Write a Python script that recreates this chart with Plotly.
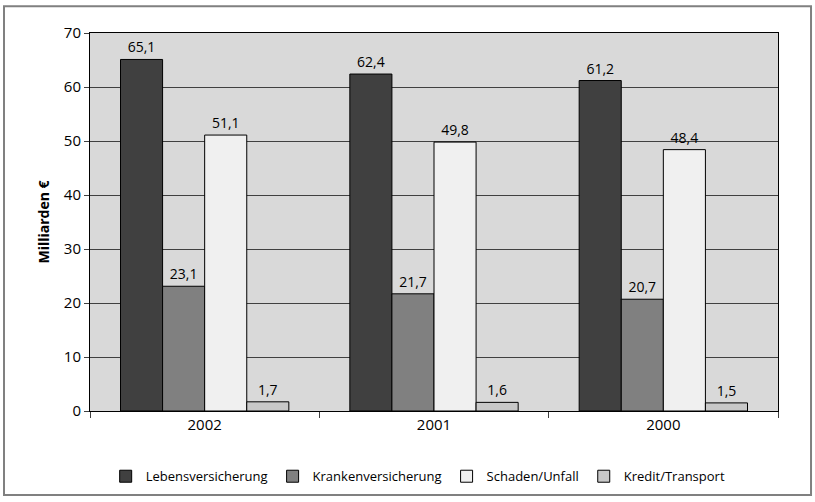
import plotly.graph_objects as go

years = ["2002", "2001", "2000"]
series_names = ["Lebensversicherung", "Krankenversicherung", "Schaden/Unfall", "Kredit/Transport"]
leben = [65.1, 62.4, 61.2]
kranken = [23.1, 21.7, 20.7]
schaden = [51.1, 49.8, 48.4]
kredit = [1.7, 1.6, 1.5]
colors = ["#404040", "#808080", "#f0f0f0", "#c8c8c8"]

fig = go.Figure()
for name, vals, col in zip(series_names, [leben, kranken, schaden, kredit], colors):
    fig.add_trace(go.Bar(
        x=years, y=vals, name=name,
        marker=dict(color=col, line=dict(color="#000000", width=1)),
        text=[f"{v:.1f}".replace(".", ",") for v in vals],
        textposition="outside", cliponaxis=False,
        textfont=dict(size=14, color="#000000"),
    ))

fig.update_layout(
    width=815, height=502,
    margin=dict(l=90, r=37, t=33, b=90),
    paper_bgcolor="white", plot_bgcolor="#d9d9d9",
    font=dict(family="Open Sans", size=14, color="#000000"),
    barmode="group", bargap=0.266, bargroupgap=0,
    showlegend=True,
    legend=dict(orientation="h", x=0.477, xanchor="center", y=-0.13, yanchor="top",
                font=dict(size=13), traceorder="normal", itemwidth=30),
    yaxis=dict(range=[0, 70], dtick=10, showgrid=True, gridcolor="#404040", gridwidth=1,
               ticks="outside", ticklen=5, tickcolor="#404040",
               showline=True, linecolor="#000000", mirror=True, zeroline=False,
               tickfont=dict(size=15),
               title=dict(text="<b>Milliarden €</b>", font=dict(size=14), standoff=10)),
    xaxis=dict(tickson="boundaries", ticks="outside", ticklen=6, tickcolor="#404040",
               showline=True, linecolor="#000000", mirror=True,
               tickfont=dict(size=15)),
    shapes=[dict(type="rect", xref="paper", yref="paper",
                 x0=-0.125, x1=1.048, y0=-0.222, y1=1.071,
                 line=dict(color="#808080", width=2), fillcolor="rgba(0,0,0,0)", layer="below")],
)

fig.write_html("out.html", config={"displayModeBar": False},
               post_script="document.body.style.margin='0';document.body.style.overflow='hidden';")
